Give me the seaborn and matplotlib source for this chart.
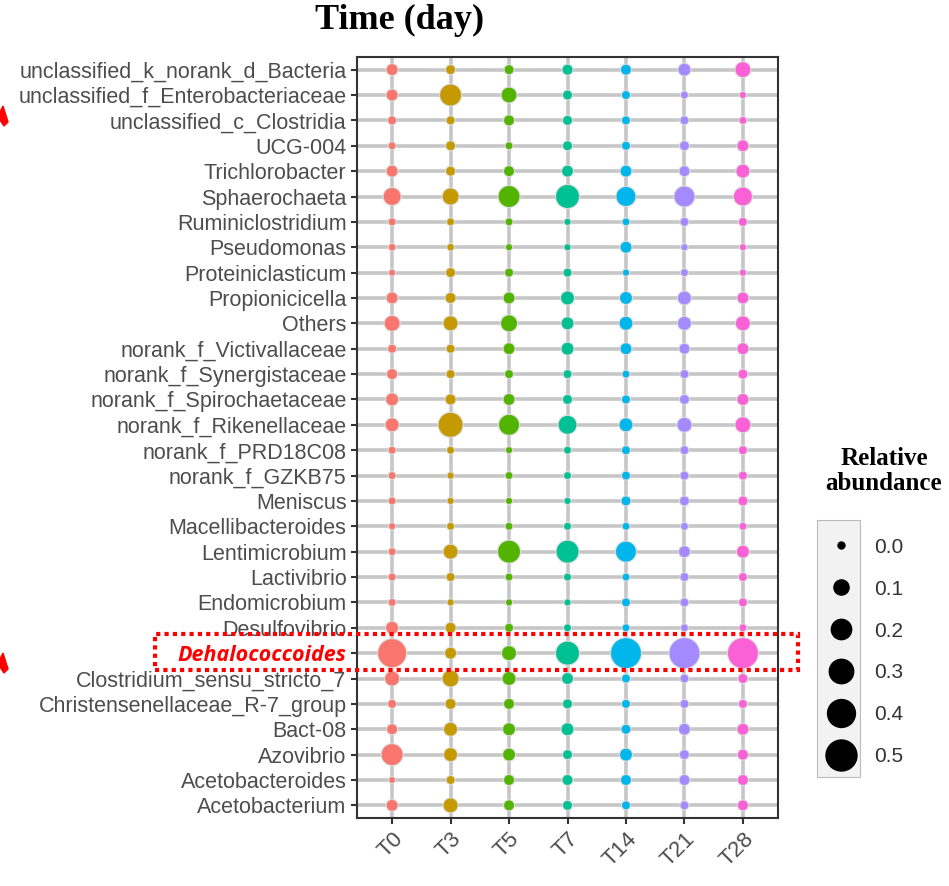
import numpy as np
import pandas as pd
import matplotlib
matplotlib.use("Agg")
import matplotlib.pyplot as plt
import seaborn as sns
from matplotlib.lines import Line2D
from matplotlib.patches import Rectangle, Polygon

# genera, top to bottom
genera = [
    "unclassified_k_norank_d_Bacteria", "unclassified_f_Enterobacteriaceae",
    "unclassified_c_Clostridia", "UCG-004", "Trichlorobacter", "Sphaerochaeta",
    "Ruminiclostridium", "Pseudomonas", "Proteiniclasticum", "Propionicicella",
    "Others", "norank_f_Victivallaceae", "norank_f_Synergistaceae",
    "norank_f_Spirochaetaceae", "norank_f_Rikenellaceae", "norank_f_PRD18C08",
    "norank_f_GZKB75", "Meniscus", "Macellibacteroides", "Lentimicrobium",
    "Lactivibrio", "Endomicrobium", "Desulfovibrio", "Dehalococcoides",
    "Clostridium_sensu_stricto_7", "Christensenellaceae_R-7_group", "Bact-08",
    "Azovibrio", "Acetobacteroides", "Acetobacterium",
]
times = ["T0", "T3", "T5", "T7", "T14", "T21", "T28"]
colors = ["#F8766D", "#C49A00", "#53B400", "#00C094", "#00B6EB", "#A58AFF", "#FB61D7"]

# relative abundance, one row per genus, columns = times
abundance = [
    [0.052, 0.028, 0.028, 0.040, 0.040, 0.066, 0.113],
    [0.052, 0.238, 0.113, 0.028, 0.018, 0.008, 0.002],
    [0.018, 0.018, 0.040, 0.028, 0.018, 0.018, 0.008],
    [0.008, 0.028, 0.008, 0.028, 0.018, 0.028, 0.052],
    [0.052, 0.028, 0.040, 0.052, 0.052, 0.040, 0.081],
    [0.151, 0.132, 0.238, 0.289, 0.193, 0.215, 0.171],
    [0.008, 0.008, 0.008, 0.002, 0.008, 0.018, 0.018],
    [0.005, 0.005, 0.002, 0.002, 0.052, 0.002, 0.002],
    [0.000, 0.028, 0.018, 0.018, 0.002, 0.008, 0.002],
    [0.052, 0.040, 0.052, 0.081, 0.066, 0.081, 0.052],
    [0.113, 0.097, 0.132, 0.066, 0.081, 0.081, 0.097],
    [0.018, 0.018, 0.052, 0.066, 0.052, 0.040, 0.052],
    [0.040, 0.018, 0.018, 0.018, 0.008, 0.018, 0.028],
    [0.066, 0.040, 0.052, 0.028, 0.018, 0.028, 0.052],
    [0.081, 0.316, 0.215, 0.171, 0.081, 0.097, 0.113],
    [0.008, 0.008, 0.002, 0.008, 0.018, 0.018, 0.018],
    [0.008, 0.002, 0.008, 0.008, 0.018, 0.018, 0.018],
    [0.008, 0.002, 0.002, 0.002, 0.028, 0.028, 0.028],
    [0.002, 0.008, 0.008, 0.008, 0.008, 0.008, 0.008],
    [0.008, 0.097, 0.263, 0.263, 0.215, 0.052, 0.066],
    [0.008, 0.018, 0.008, 0.008, 0.008, 0.018, 0.018],
    [0.008, 0.002, 0.002, 0.002, 0.018, 0.018, 0.018],
    [0.066, 0.040, 0.018, 0.008, 0.008, 0.008, 0.008],
    [0.434, 0.052, 0.097, 0.289, 0.500, 0.570, 0.500],
    [0.097, 0.132, 0.081, 0.052, 0.018, 0.018, 0.028],
    [0.018, 0.040, 0.040, 0.028, 0.018, 0.018, 0.018],
    [0.040, 0.081, 0.066, 0.066, 0.028, 0.052, 0.052],
    [0.238, 0.081, 0.066, 0.028, 0.066, 0.028, 0.040],
    [0.000, 0.018, 0.040, 0.040, 0.040, 0.040, 0.040],
    [0.052, 0.097, 0.040, 0.028, 0.018, 0.018, 0.040],
]
legend_levels = [0.0, 0.1, 0.2, 0.3, 0.4, 0.5]

# long format
rows = []
for g, vals in zip(genera, abundance):
    for t, v in zip(times, vals):
        rows.append({"genus": g, "time": t, "abundance": v})
df = pd.DataFrame(rows)

size_range = (25, 498)
size_norm = (0, 0.5)

fig = plt.figure(figsize=(9.49, 8.86), dpi=100)
ax = fig.add_axes([0.3762, 0.0767, 0.4436, 0.859])

sns.scatterplot(data=df, x="time", y="genus", hue="time", palette=colors,
                size="abundance", sizes=size_range, size_norm=size_norm,
                edgecolor="#dddddd", linewidth=0.8, legend=False, ax=ax, zorder=3)

ax.set_xlim(-0.6, len(times) - 0.4)
ax.set_ylim(len(genera) - 0.5, -0.5)
ax.set_xlabel("")
ax.set_ylabel("")
ax.grid(True, color="#c6c6c6", linewidth=2.6)
ax.set_axisbelow(True)
for s in ax.spines.values():
    s.set_color("#333333")
    s.set_linewidth(1.5)
ax.tick_params(colors="#333333", length=4, width=1.5)

ax.set_xticks(range(len(times)))
ax.set_xticklabels(times, rotation=45, ha="right", rotation_mode="anchor",
                   fontsize=16, color="#4d4d4d", family="Liberation Sans")
ax.set_yticks(range(len(genera)))
ax.set_yticklabels(genera, fontsize=15.5, color="#4d4d4d", family="Liberation Sans")

for lbl in ax.get_yticklabels():
    if lbl.get_text() == "Dehalococcoides":
        lbl.set_color("red")
        lbl.set_fontweight("bold")
        lbl.set_fontstyle("italic")
        lbl.set_family("Open Sans")
        lbl.set_fontsize(15.5)

# title
fig.text(400 / 949, 1 - 20 / 886, "Time (day)", ha="center", va="center",
         fontsize=26, fontweight="bold", family="Liberation Serif")

# legend
def size_for(v):
    return size_range[0] + (v - size_norm[0]) / (size_norm[1] - size_norm[0]) * (size_range[1] - size_range[0])

fig.text(884 / 949, 1 - 471 / 886, "Relative\nabundance", ha="center", va="center",
         fontsize=18, fontweight="bold", family="Liberation Serif", linespacing=1.1)
fig.patches.append(Rectangle((817 / 949, 1 - 777 / 886), 43 / 949, 257 / 886,
                             transform=fig.transFigure, facecolor="#f2f2f2",
                             edgecolor="#bbbbbb", linewidth=0.8, zorder=0))
handles = [Line2D([], [], marker="o", ls="", color="black", markersize=np.sqrt(size_for(v)))
           for v in legend_levels]
leg = fig.legend(handles, [f"{v:.1f}" for v in legend_levels], loc="upper left",
                 bbox_to_anchor=(806 / 949, 1 - 519 / 886), frameon=False,
                 prop={"family": "Liberation Sans", "size": 15}, labelcolor="#333333",
                 labelspacing=1.1, handletextpad=0.75, handlelength=1.6)

# red dotted highlight box
fig.patches.append(Rectangle((155 / 949, 1 - 670 / 886), 643 / 949, 36 / 886,
                             transform=fig.transFigure, fill=False, edgecolor="red",
                             linewidth=3, linestyle=(0, (1, 1)), zorder=5))

# clipped red arrow tips at the left edge
for y0 in (106, 653):
    pts = [(0, y0 + 6), (3, y0), (8, y0 + 16), (4, y0 + 20), (0, y0 + 14)]
    fig.patches.append(Polygon([(x / 949, 1 - y / 886) for x, y in pts], closed=True,
                               transform=fig.transFigure, color="red", zorder=5))

plt.savefig("out.png", dpi=100)
